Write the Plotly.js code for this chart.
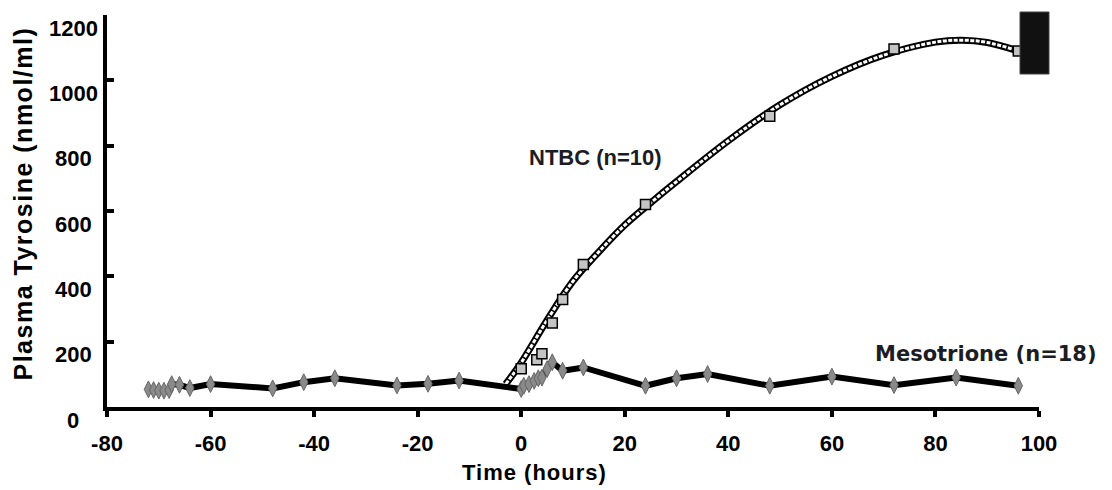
<!DOCTYPE html>
<html>
<head>
<meta charset="utf-8">
<script src="https://cdn.plot.ly/plotly-3.0.1.min.js"></script>
<style>html,body{margin:0;padding:0;background:#fff;}#chart{width:1112px;height:490px;}</style>
</head>
<body>
<div id="chart"></div>
<script>
// Mesotrione (n=18) mean plasma tyrosine
const mesoTime = [-72,-71,-70,-69,-68,-67.5,-66,-64,-60,-48,-42,-36,-24,-18,-12,0,0.5,1.5,2.5,3.3,4,5,6,8,12,24,30,36,48,60,72,84,96];
const mesoTyr  = [54,52,50,50,52,70,68,58,70,57,76,88,66,71,81,55,65,70,80,88,90,116,137,111,121,65,88,101,65,93,67,90,65];

// NTBC (n=10) mean plasma tyrosine
const ntbcTime = [0,3,4,6,8,12,24,48,72,96];
const ntbcTyr  = [117,145,163,257,329,436,620,890,1096,1090];

// NTBC fitted curve
const fitTime = [-3,0,5,10,15,20,25,30,40,50,60,70,80,85,90,96];
const fitTyr  = [70,136,266,385,475,557,625,690,815,925,1012,1077,1117,1123,1116,1090];

const xTicks = [-80,-60,-40,-20,0,20,40,60,80,100];
const yTicks = [0,200,400,600,800,1000,1200];

const FONT = "'Liberation Sans', Arial, sans-serif";
const W = 1112, H = 490, L = 107, R = 73, T = 15, B = 83;
const pw = W - L - R, ph = H - T - B;
const px = v => (v - L) / pw;
const py = v => (H - B - v) / ph;
const spaced = (s, ls) => '<span style="letter-spacing:' + ls + 'px">' + s + '</span>';

const traces = [
  {x: fitTime, y: fitTyr, mode: 'lines', line: {color: '#000', width: 7, shape: 'spline', smoothing: 1}, hoverinfo: 'skip', showlegend: false},
  {x: fitTime, y: fitTyr, mode: 'lines', line: {color: '#fff', width: 3, shape: 'spline', smoothing: 1, dash: '4px,1.5px'}, hoverinfo: 'skip', showlegend: false},
  {x: mesoTime, y: mesoTyr, mode: 'lines+markers', name: 'Mesotrione (n=18)',
   line: {color: '#000', width: 6},
   marker: {symbol: 'diamond-tall', size: 12, color: '#8a8a8a', line: {color: '#666', width: 1}}, showlegend: false},
  {x: ntbcTime, y: ntbcTyr, mode: 'markers', name: 'NTBC (n=10)',
   marker: {symbol: 'square', size: 10, color: '#c4c4c4', line: {color: '#000', width: 1.5}}, showlegend: false}
];

const annotations = [
  {text: 'NTBC (n=10)', xref: 'x', yref: 'y', x: 14.3, y: 765, showarrow: false,
   font: {family: FONT, size: 22, weight: 'bold', color: '#1c1c24'}},
  {text: 'Mesotrione (n=18)', xref: 'x', yref: 'y', x: 89.7, y: 161, showarrow: false,
   font: {family: "'DejaVu Sans', Verdana, sans-serif", size: 21, weight: 'bold', color: '#1c1c24'}},
  {text: spaced('Time (hours)', 1), xref: 'paper', yref: 'paper', x: px(534), y: py(472), showarrow: false,
   xanchor: 'center', yanchor: 'middle', font: {family: FONT, size: 22, weight: 'bold', color: '#000'}},
  {text: spaced('Plasma Tyrosine (nmol/ml)', 1.5), xref: 'paper', yref: 'paper', x: px(22.5), y: py(204), showarrow: false,
   textangle: -90, xanchor: 'center', yanchor: 'middle', font: {family: FONT, size: 25, weight: 'bold', color: '#000'}}
];
yTicks.forEach(v => annotations.push({
  text: String(v), xref: 'paper', yref: 'y', x: px(73), y: v, yshift: -13, showarrow: false,
  xanchor: 'center', yanchor: 'middle', font: {family: FONT, size: 22, weight: 'bold', color: '#000'}
}));

const layout = {
  width: W, height: H,
  margin: {l: L, r: R, t: T, b: B, pad: 0},
  paper_bgcolor: '#fff', plot_bgcolor: '#fff',
  showlegend: false,
  xaxis: {range: [-80, 100], tickvals: xTicks, ticktext: xTicks.map(String),
    showline: true, linecolor: '#000', linewidth: 4, ticks: 'outside', ticklen: 6, tickwidth: 4, tickcolor: '#000',
    showgrid: false, zeroline: false, ticklabelstandoff: 8,
    tickfont: {family: FONT, size: 22, weight: 'bold', color: '#000'}, fixedrange: true},
  yaxis: {range: [0, 1200], tickvals: yTicks, showticklabels: false,
    showline: true, linecolor: '#000', linewidth: 4, ticks: 'inside', ticklen: 7, tickwidth: 4, tickcolor: '#000',
    showgrid: false, zeroline: false, fixedrange: true},
  shapes: [
    {type: 'rect', xref: 'paper', yref: 'paper', x0: px(1020), x1: px(1049), y0: py(74), y1: py(12),
     fillcolor: '#111', line: {color: '#444', width: 1}}
  ],
  annotations: annotations
};

Plotly.newPlot('chart', traces, layout, {displayModeBar: false, staticPlot: true});
</script>
</body>
</html>
